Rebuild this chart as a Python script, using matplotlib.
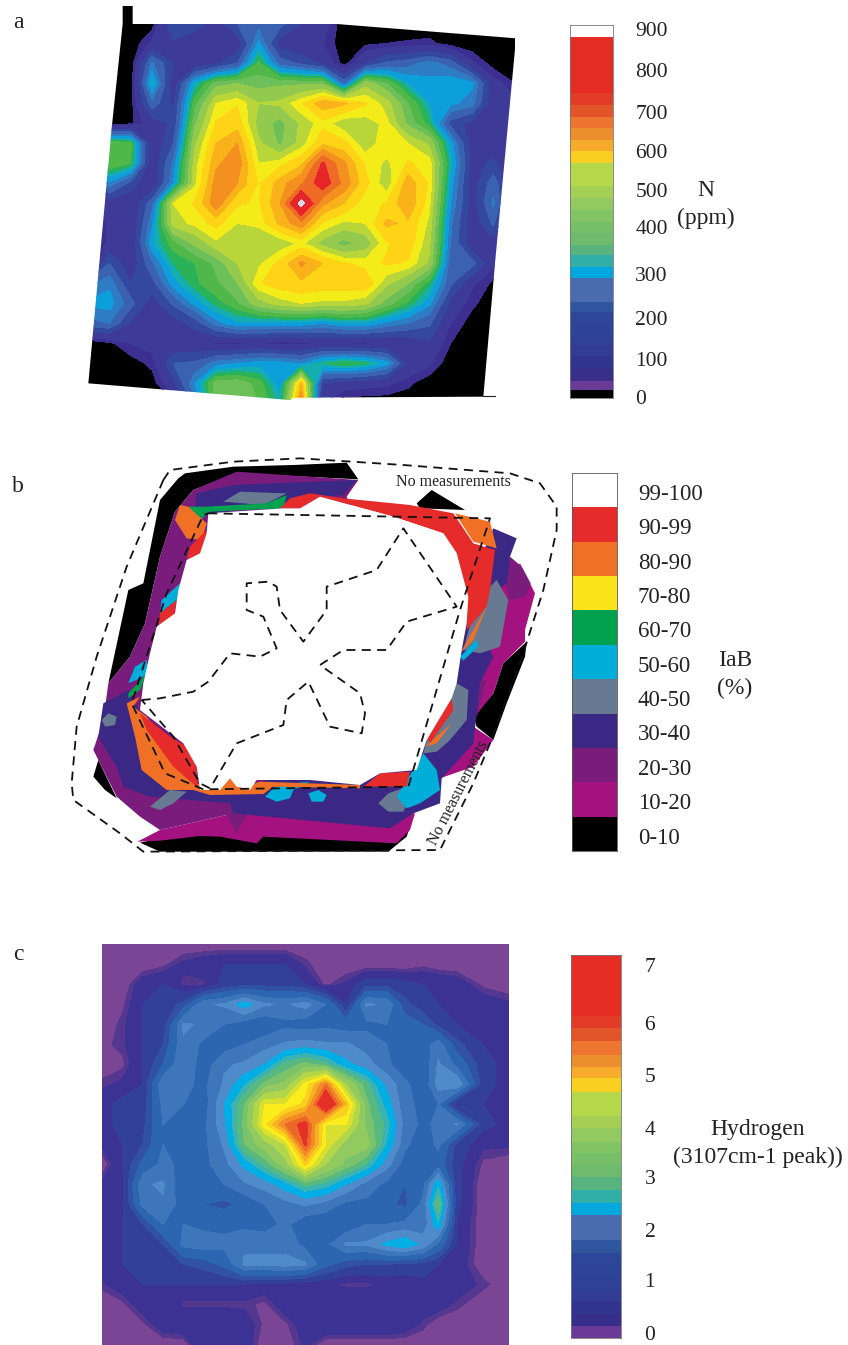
import numpy as np
import matplotlib
matplotlib.use('Agg')
import matplotlib.pyplot as plt
from matplotlib.patches import Polygon

plt.rcParams['font.family'] = ['Liberation Serif', 'DejaVu Serif']

W, H = 848, 1345

# ---- panel a: nitrogen map, ppm on a grid
n_x = [24, 88, 152, 216, 280, 344, 408, 472, 536, 600, 664, 728, 792, 856, 920, 984, 1048, 1112, 1176, 1240, 1304]
n_y = [10, 70, 130, 190, 250, 310, 370, 430, 490, 550, 610, 670, 730, 790, 850, 910, 970, 1030, 1090, 1150, 1210]
n_ppm = [
    [0] * 21,
    [0, 0, 0, 10, 170, 150, 100, 170, 200, 190, 120, 90, 0, 0, 0, 0, 0, 0, 0, 0, 0],
    [0, 0, 0, 70, 110, 70, 60, 80, 270, 90, 60, 60, 5, 20, 30, 35, 40, 10, 0, 0, 0],
    [0, 0, 0, 230, 120, 70, 110, 170, 370, 200, 160, 110, 10, 120, 180, 200, 240, 200, 70, 10, 0],
    [0, 0, 5, 310, 80, 300, 420, 440, 420, 430, 430, 430, 200, 470, 400, 300, 270, 290, 270, 80, 30],
    [0, 0, 10, 200, 110, 380, 530, 560, 490, 500, 560, 640, 620, 570, 510, 400, 300, 270, 240, 70, 80],
    [0, 0, 20, 90, 130, 430, 570, 590, 470, 420, 500, 550, 500, 510, 540, 430, 340, 150, 100, 80, 100],
    [0, 400, 370, 70, 170, 480, 610, 650, 500, 430, 510, 600, 580, 500, 560, 530, 480, 280, 90, 90, 110],
    [0, 400, 360, 70, 230, 510, 640, 680, 530, 550, 600, 760, 660, 560, 520, 570, 550, 310, 100, 130, 60],
    [0, 250, 150, 60, 260, 520, 670, 650, 560, 630, 690, 790, 680, 580, 500, 640, 560, 280, 90, 200, 60],
    [0, 90, 70, 200, 530, 570, 680, 570, 560, 650, 860, 660, 610, 540, 570, 650, 540, 260, 90, 230, 40],
    [0, 70, 60, 250, 510, 540, 580, 530, 540, 620, 680, 560, 520, 530, 620, 600, 520, 230, 80, 180, 0],
    [0, 70, 70, 290, 380, 450, 520, 500, 490, 500, 540, 470, 420, 460, 560, 590, 500, 220, 80, 90, 0],
    [0, 170, 80, 210, 330, 360, 410, 490, 520, 580, 660, 610, 570, 550, 570, 560, 480, 190, 190, 70, 0],
    [200, 250, 120, 150, 280, 350, 390, 440, 560, 590, 600, 590, 590, 600, 500, 440, 340, 180, 70, 20, 0],
    [270, 280, 190, 90, 180, 270, 340, 390, 470, 510, 530, 520, 520, 500, 420, 350, 270, 100, 40, 0, 0],
    [200, 220, 110, 80, 90, 140, 240, 290, 280, 280, 280, 260, 290, 290, 250, 220, 180, 60, 10, 0, 0],
    [0, 20, 60, 80, 70, 70, 50, 50, 60, 40, 50, 60, 50, 50, 60, 70, 110, 30, 0, 0, 0],
    [0, 0, 10, 40, 170, 180, 240, 260, 280, 280, 250, 330, 360, 340, 280, 100, 70, 0, 0, 0, 0],
    [0, 0, 0, 10, 100, 260, 420, 430, 380, 270, 620, 120, 90, 80, 70, 40, 0, 0, 0, 0, 0],
    [0, 0, 0, 0, 20, 200, 420, 430, 400, 320, 700, 60, 0, 0, 0, 0, 0, 0, 0, 0, 0],
]
n_levels = [0, 30, 60, 120, 170, 220, 260, 300, 330, 360, 400, 440, 490, 530, 565, 610, 650, 700, 750, 830, 900]
n_colors = ['#000000', '#3D2F91', '#3E3A97', '#35489F', '#3A62B0', '#2E7CC4', '#0D9FDB', '#14AEB0', '#29B25A',
            '#4FB848', '#6DBF5A', '#93C94C', '#B8D53A', '#F3EC19', '#FFD316', '#F9B21A', '#F4901F', '#EE6B25',
            '#E6252B', '#D8DCE0']
n_outline = [(128, 18), (158, 18), (158, 72), (770, 72), (1308, 115), (1245, 790), (1210, 1190), (640, 1193),
             (630, 1200), (25, 1150), (95, 385), (128, 72)]

n_edges = [-8, 12, 33, 66, 95, 123, 148, 177, 205, 230, 288, 316, 345, 370, 399, 427, 456, 485, 514, 571, 600,
           629, 658, 686, 715, 744, 883, 912]
n_bar_colors = ['#000000', '#6A3A96', '#382F8B', '#33348D', '#323C92', '#2F4195', '#2E4498', '#2E4699', '#2F559F',
                '#4A6BAD', '#00A8DE', '#2FAFA8', '#58B47E', '#6FBB6E', '#77BE69', '#82C364', '#93C961', '#A4CF54',
                '#B5D84A', '#F9CF22', '#F6AC2A', '#EC8D2E', '#EE7530', '#E25528', '#E23C29', '#E52D26', '#FFFFFF']
n_tick_labels = ['0', '100', '200', '300', '400', '500', '600', '700', '800', '900']
n_tick_pos = [-5, 89, 190, 299, 415, 506, 600, 698, 800, 901]

# ---- panel b: IaB regions, painted outermost first
b_labels = ['0-10', '10-20', '20-30', '30-40', '40-50', '50-60', '60-70', '70-80', '80-90', '90-99', '99-100']
b_colors = ['#000000', '#A3127E', '#7A1C7C', '#3B2784', '#687A92', '#00AEDA', '#00A14F', '#FBE31B', '#F07125',
            '#E62B2B', '#FFFFFF']

black_regions = [
    [(375, 70), (520, 50), (700, 45), (860, 38), (895, 88), (530, 70), (400, 120), (345, 185), (300, 320), (255, 520),
     (210, 620), (145, 700), (205, 420), (250, 400), (300, 150), (355, 85)],
    [(100, 980), (115, 930), (170, 1045), (135, 1020)],
    [(240, 1178), (300, 1205), (985, 1205), (1040, 1160), (1060, 1100), (500, 1130), (300, 1165)],
    [(1070, 160), (1115, 120), (1215, 180), (1080, 175)],
    [(1400, 575), (1330, 640), (1300, 730), (1240, 800), (1250, 830), (1300, 870), (1340, 760), (1395, 620)],
]
magenta_regions = [
    [(232, 1175), (300, 1140), (500, 1095), (1065, 1090), (1050, 1140), (1010, 1180), (610, 1160), (590, 1180),
     (480, 1160), (420, 1158), (300, 1172)],
    [(1425, 430), (1395, 540), (1395, 575), (1330, 640), (1300, 730), (1245, 800), (1240, 830), (1300, 870),
     (1240, 950), (1140, 985), (1180, 800), (1220, 500), (1380, 340)],
]
purple_regions = [
    [(895, 90), (860, 140), (1000, 500), (1000, 1000), (640, 1090), (560, 1095), (530, 1150), (500, 1095), (300, 1140),
     (240, 1100), (170, 1040), (120, 940), (100, 900), (130, 810), (145, 700), (210, 620), (255, 520), (300, 320),
     (345, 185), (400, 120), (530, 65)],
    [(1350, 320), (1385, 350), (1412, 400), (1395, 440), (1350, 450), (1330, 380)],
    [(1200, 700), (1280, 690), (1250, 800), (1200, 800)],
    [(175, 810), (200, 840), (205, 880), (180, 900), (162, 870)],
    [(880, 1022), (905, 1030), (908, 1055), (880, 1068), (855, 1050), (858, 1030)],
]
indigo_regions = [
    [(410, 130), (520, 105), (890, 90), (850, 135), (720, 150), (600, 170), (400, 200)],
    [(205, 720), (130, 760), (115, 860), (170, 950), (190, 1010), (270, 1040), (510, 1060), (520, 1090), (990, 1135),
     (1060, 1090), (1140, 1060), (1145, 985), (1240, 880), (1260, 700), (1300, 620), (1290, 600),
     (1310, 420), (1340, 400), (1350, 320), (1370, 265), (1300, 235), (1100, 700), (600, 1000), (300, 900)],
]
gray_regions = [
    [(490, 155), (540, 125), (680, 130), (610, 165)],
    [(1310, 390), (1345, 450), (1320, 590), (1260, 610), (1210, 600), (1250, 450)],
    [(1190, 700), (1225, 720), (1220, 810), (1170, 870), (1130, 905), (1090, 910), (1120, 800)],
    [(955, 1060), (985, 1030), (1070, 1000), (1030, 1085), (985, 1085)],
    [(270, 1070), (330, 1020), (380, 1025), (340, 1060), (300, 1080)],
    [(125, 810), (145, 790), (170, 800), (165, 825), (135, 830)],
]
cyan_regions = [
    [(305, 450), (360, 400), (350, 450), (300, 490)],
    [(205, 700), (225, 650), (260, 630), (265, 670), (240, 685)],
    [(1200, 620), (1250, 570), (1255, 590), (1210, 632)],
    [(1010, 1040), (1090, 910), (1130, 960), (1140, 1020), (1080, 1060), (1040, 1075)],
    [(615, 1040), (650, 1005), (750, 995), (700, 1020), (690, 1045), (650, 1055)],
    [(745, 1030), (775, 1020), (800, 1035), (790, 1055), (755, 1055)],
]
green_regions = [
    [(385, 170), (430, 170), (620, 160), (680, 135), (670, 175), (450, 185), (420, 210)],
    [(205, 730), (260, 670), (240, 720), (205, 745)],
]
orange_regions = [
    [(1185, 190), (1290, 215), (1310, 295), (1240, 275)],
    [(345, 210), (360, 165), (385, 170), (440, 220), (425, 270), (380, 265)],
    [(200, 760), (240, 740), (220, 770), (260, 800), (410, 1000), (470, 1020), (510, 980), (540, 1015), (600, 995),
     (900, 1005), (900, 1015), (640, 1010), (610, 1032), (450, 1035), (400, 1020), (320, 1020), (245, 960), (225, 860)],
    [(1200, 610), (1280, 470), (1240, 570)],
    [(1095, 890), (1175, 820), (1130, 880)],
]
red_regions = [
    [(660, 175), (690, 145), (750, 130), (850, 145), (1050, 165), (1180, 190), (1240, 280), (1305, 300), (1290, 420),
     (1280, 470), (1220, 540), (1220, 440), (1190, 310), (1150, 250), (1000, 200), (780, 140), (720, 175)],
    [(380, 330), (390, 290), (440, 240), (440, 290), (420, 310)],
    [(300, 490), (350, 450), (340, 510), (295, 530)],
    [(240, 790), (330, 860), (380, 890), (410, 950), (415, 1015), (340, 950), (260, 840)],
    [(1100, 860), (1175, 745), (1180, 780), (1110, 880)],
    [(910, 1010), (960, 970), (1050, 965), (1040, 1010)],
]
white_region = [(720, 175), (780, 140), (1000, 200), (1150, 250), (1190, 310), (1225, 440), (1220, 520), (1205, 600),
                (1190, 700), (1175, 745), (1100, 870), (1070, 960), (960, 970), (900, 1005), (750, 990), (590, 990),
                (570, 1020), (530, 1010), (510, 985), (480, 1020), (420, 1020), (410, 950), (370, 880), (240, 780),
                (250, 700), (270, 610), (290, 530), (345, 490), (355, 420), (380, 330), (420, 310), (440, 250),
                (445, 190), (670, 175)]

dash_outer = [(310, 90), (330, 60), (520, 35), (720, 25), (1030, 45), (1350, 70), (1440, 100), (1490, 170), (1490, 240),
              (1450, 420), (1380, 640), (1290, 880), (1240, 1000), (1140, 1200), (250, 1205), (180, 1150), (40, 1050),
              (35, 1000), (50, 830), (110, 620), (200, 350), (310, 90)]
dash_rhombus = [(445, 190), (1290, 205), (1200, 480), (1045, 1010), (430, 1018), (315, 970), (215, 760), (320, 430),
                (430, 195), (445, 190)]
dash_star = [(245, 750), (300, 745), (400, 725), (445, 695), (510, 610), (600, 620), (650, 595), (610, 500), (560, 480),
             (560, 400), (625, 395), (650, 410), (660, 480), (730, 575), (800, 480), (800, 410), (950, 360), (1030, 235),
             (1190, 470), (1040, 515), (980, 600), (850, 600), (780, 645), (900, 730), (915, 790), (905, 850), (810, 830),
             (745, 695), (680, 750), (670, 825), (530, 880), (450, 1015), (420, 1000), (340, 860), (245, 750)]

# ---- panel c: hydrogen map
h_x = [36, 97, 158, 219, 280, 341, 402, 463, 524, 585, 646, 707, 768, 829, 890, 945, 1000, 1045, 1100, 1180, 1256]
h_y = [28, 88, 148, 208, 268, 328, 388, 448, 508, 568, 628, 688, 748, 808, 868, 928, 988, 1048, 1108, 1168, 1230]
h_peak = [
    [.1] * 21,
    [.1, .1, .1, .2, .4, .5, .6, .6, .6, .6, .3, .1, .1, .1, .1, .1, .2, .1, .1, .1, .1],
    [.1, .1, .5, .6, .3, .3, .7, .8, .8, .8, .6, .2, .4, .8, .8, .7, .6, .6, .5, .2, .1],
    [.1, .2, .6, .7, 1.0, 1.9, 2.0, 2.5, 2.0, 1.9, 2.1, 1.6, .6, 2.0, 1.9, 1.0, .7, .6, .6, .5, .4],
    [.1, .3, .6, .7, 2.0, 1.9, 1.6, 1.4, 1.3, 1.5, 1.4, 1.5, 1.4, 1.5, 1.6, 1.4, 1.2, .8, .6, .6, .5],
    [.2, .3, .6, .9, 1.9, 1.5, 1.4, 1.6, 1.8, 2.0, 2.1, 2.0, 2.0, 1.8, 1.6, 1.3, 1.4, 1.8, 1.0, .6, .5],
    [.1, .2, .6, 1.2, 1.9, 1.4, 1.9, 2.0, 2.3, 3.0, 3.3, 3.0, 2.4, 2.1, 1.7, 1.3, 1.3, 2.0, 1.5, .7, .5],
    [.3, .4, .6, 1.9, 1.7, 1.5, 2.0, 2.6, 3.3, 3.6, 4.7, 5.8, 3.9, 3.0, 2.2, 1.7, 1.3, 2.1, 2.3, .7, .5],
    [.5, .7, .7, 1.7, 1.6, 1.4, 2.3, 3.2, 4.6, 4.6, 5.0, 6.9, 5.2, 3.3, 2.5, 1.7, 1.5, 1.6, .5, .6, .5],
    [.5, .7, .8, 1.6, 1.5, 1.5, 2.2, 3.3, 4.8, 5.8, 6.3, 4.6, 4.6, 3.4, 2.8, 1.8, 1.5, 1.7, 2.0, .7, .5],
    [.4, .6, .9, 1.6, 1.3, 1.5, 2.0, 3.2, 3.7, 4.3, 6.2, 4.6, 3.7, 3.7, 2.6, 1.7, 1.3, 1.7, .8, .4, .4],
    [.1, .6, 1.3, 1.7, 1.5, 1.5, 1.8, 2.4, 3.0, 3.7, 5.0, 3.9, 3.4, 2.9, 2.1, 1.4, 1.3, 1.4, .7, .2, .1],
    [.4, .5, 1.9, 2.0, 1.3, 1.3, 1.6, 1.9, 2.1, 2.5, 3.0, 2.8, 2.3, 1.8, 1.5, 1.2, 1.5, 2.6, .7, .1, .1],
    [.5, .5, 1.7, 1.9, 1.4, 1.2, 1.1, 1.3, 1.6, 1.8, 2.0, 1.8, 1.5, 1.5, 1.3, 1.1, 1.7, 3.2, .7, .1, .1],
    [.5, .6, .9, 1.6, 1.6, 1.5, 1.5, 1.5, 1.4, 1.7, 1.3, 1.3, 1.3, 1.6, 1.6, 1.7, 1.7, 2.6, .6, .1, .1],
    [.5, .6, .7, .9, 1.7, 1.8, 1.7, 1.9, 1.9, 1.8, 1.5, 1.5, 2.0, 2.0, 2.4, 2.6, 2.2, 1.5, .6, .1, .1],
    [.5, .6, .7, .7, .9, 1.0, 1.3, 2.0, 2.0, 2.1, 2.0, 1.3, 1.0, .9, .9, .8, .8, .6, .5, .1, .1],
    [.3, .5, .6, .6, .6, .6, .6, .6, .5, .5, .4, .4, .3, .3, .4, .4, .5, .5, .5, .3, .1],
    [.1, .2, .5, .6, .3, .3, .3, .3, .2, .5, .6, .6, .6, .6, .6, .6, .5, .5, .3, .1, .1],
    [.1, .1, .2, .5, .6, .6, .6, .5, .2, .2, .5, .6, .6, .6, .6, .5, .3, .1, .1, .1, .1],
    [.1, .1, .1, .1, .1, .6, .6, .5, .1, .1, .4, .1, .1, .1, .1, .1, .1, .1, .1, .1, .1],
]
h_levels = [0, .25, .35, .6, .9, 1.2, 1.6, 1.95, 2.3, 2.65, 2.9, 3.2, 3.5, 3.9, 4.3, 4.6, 4.9, 5.2, 5.5, 5.8, 6.1, 7]
h_colors = ['#7A4594', '#54388F', '#3B3293', '#33409B', '#3051A4', '#2D66B0', '#3E76BC', '#4F8BCB', '#00AEE6',
            '#3BB3B0', '#57B97F', '#7BC36B', '#93CA60', '#B2D64A', '#D8DF30', '#FBEC1C', '#FBCF1D', '#F7AE22',
            '#F28B26', '#EC6728', '#E5302A']

h_edges = [-.10, .12, .34, .60, .82, 1.07, 1.30, 1.52, 1.77, 2.0, 2.25, 2.47, 2.73, 2.97, 3.21, 3.43, 3.65, 3.91,
           4.13, 4.38, 4.60, 4.86, 5.08, 5.31, 5.56, 5.81, 6.04, 7.21]
h_bar_colors = ['#6A3A96', '#382F8B', '#33348D', '#323C92', '#2F4195', '#2E4498', '#2E4699', '#2F559F', '#4A6BAD',
                '#4A6BAD', '#00A8DE', '#2FAFA8', '#58B47E', '#6FBB6E', '#77BE69', '#82C364', '#93C961', '#A4CF54',
                '#B5D84A', '#B5D84A', '#F9CF22', '#F6AC2A', '#EC8D2E', '#EE7530', '#E25528', '#E23C29', '#E52D26']
h_tick_labels = ['0', '1', '2', '3', '4', '5', '6', '7']
h_tick_pos = [0, 1.01, 1.97, 2.98, 3.91, 4.92, 5.92, 7.02]


def px_axes(x, y, w, h):
    # axes placed by pixel box, y measured from the top of the figure
    return fig.add_axes([x / W, 1 - (y + h) / H, w / W, h / H])


def fig_label(x, y, s, fontsize=17):
    fig.text(x / W, 1 - y / H, s, ha='center', va='center', fontsize=fontsize, color='#222222')


def contour_panel(box, xs, ys, vals, levels, colors):
    ax = px_axes(*box)
    cs = ax.contourf(xs, ys, np.array(vals), levels=levels, colors=colors)
    ax.set_xlim(0, box[2] * 3)
    ax.set_ylim(box[3] * 3, 0)
    ax.axis('off')
    return ax, cs


def color_bar(box, edges, colors, pos, labels, pad):
    ax = px_axes(*box)
    edges = np.array(edges)
    ax.bar(0, edges[1:] - edges[:-1], bottom=edges[:-1], width=1, color=colors, align='edge', linewidth=0)
    ax.set_xlim(0, 1)
    ax.set_ylim(edges[0], edges[-1])
    ax.set_xticks([])
    ax.yaxis.tick_right()
    ax.set_yticks(pos, labels)
    ax.tick_params(axis='y', length=0, pad=pad, labelsize=15.5, labelcolor='#222222')
    for s in ax.spines.values():
        s.set_color('#777777')
        s.set_linewidth(0.6)
    return ax


fig = plt.figure(figsize=(W / 100, H / 100), dpi=100, facecolor='white')

# panel a
ax, cs = contour_panel((80, 0, 450, 410), n_x, n_y, n_ppm, n_levels, n_colors)
clip = Polygon(n_outline, closed=True, transform=ax.transData, facecolor='none', edgecolor='none')
ax.add_patch(clip)
cs.set_clip_path(clip)
ax.plot([1210, 1245], [1187, 1187], color='#222222', linewidth=0.8)
color_bar((570, 25, 43, 373), n_edges, n_bar_colors, n_tick_pos, n_tick_labels, 16)
fig_label(706, 190, 'N')
fig_label(706, 218, '(ppm)')

# panel b, drawn in the coordinates of the traced outlines
ax = px_axes(60, 450, 500, 410)
ax.set_xlim(0, 1500)
ax.set_ylim(1230, 0)
ax.axis('off')
layers = [(black_regions, b_colors[0]), (magenta_regions, b_colors[1]), (purple_regions, b_colors[2]),
          (indigo_regions, b_colors[3]), (gray_regions, b_colors[4]), (cyan_regions, b_colors[5]),
          (green_regions, b_colors[6]), (orange_regions, b_colors[8]), (red_regions, b_colors[9]),
          ([white_region], b_colors[10])]
for regions, col in layers:
    for reg in regions:
        xy = np.array(reg)
        ax.fill(xy[:, 0], xy[:, 1], color=col, linewidth=0)
for path in [dash_outer, dash_rhombus, dash_star]:
    xy = np.array(path)
    ax.plot(xy[:, 0], xy[:, 1], color='#111111', linewidth=1.3, linestyle=(0, (5, 3.5)))
ax.text(1180, 95, 'No measurements', ha='center', va='center', fontsize=11.5, color='#222222')
ax.text(1195, 1030, 'No measurements', ha='center', va='center', fontsize=11.5, color='#222222', rotation=63)

ax = px_axes(572, 473, 45, 378)
ax.bar(0, 1, bottom=np.arange(len(b_labels)), width=1, color=b_colors, align='edge', linewidth=0)
ax.set_xlim(0, 1)
ax.set_ylim(0, len(b_labels))
ax.set_xticks([])
ax.yaxis.tick_right()
ax.set_yticks(np.arange(len(b_labels)) + 0.5 - 0.05, b_labels)
ax.tick_params(axis='y', length=0, pad=15, labelsize=16.5, labelcolor='#222222')
for s in ax.spines.values():
    s.set_color('#555555')
    s.set_linewidth(0.6)
fig_label(735, 660, 'IaB')
fig_label(735, 688, '(%)')

# panel c
contour_panel((90, 935, 430, 410), h_x, h_y, h_peak, h_levels, h_colors)
color_bar((571, 955, 50, 383), h_edges, h_bar_colors, h_tick_pos, h_tick_labels, 17)
fig_label(758, 1129, 'Hydrogen')
fig_label(758, 1157, '(3107cm-1 peak))')

fig_label(18, 22, 'a')
fig_label(18, 487, 'b')
fig_label(18, 955, 'c')

fig.savefig('out.png', dpi=100, facecolor='white')
